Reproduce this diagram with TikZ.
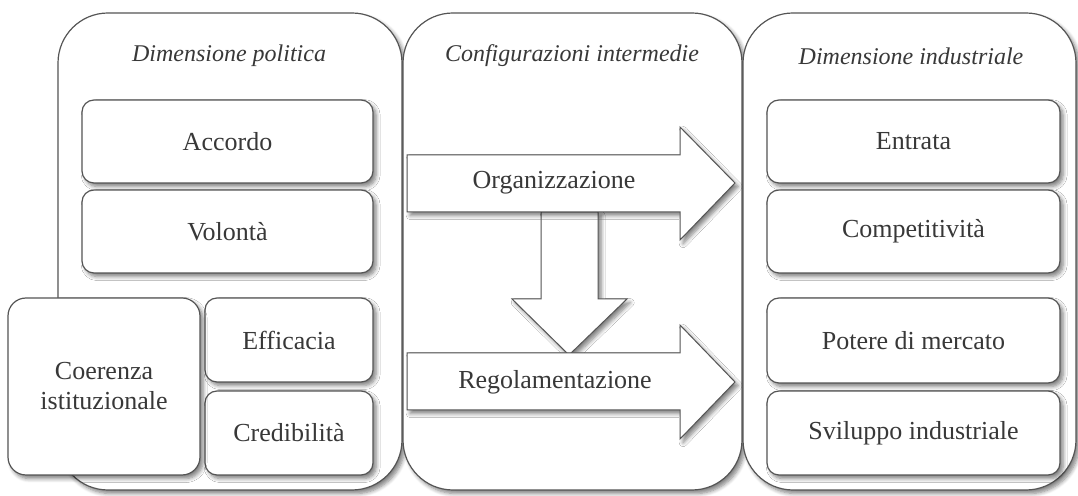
\documentclass[tikz,border=0pt]{standalone}
\usepackage{fontspec}
\setmainfont{Liberation Serif}
\usetikzlibrary{shadows.blur}
\definecolor{edge}{HTML}{555555}
\definecolor{ink}{HTML}{383838}
\tikzset{
  soft/.style={blur shadow={shadow xshift=1.6pt, shadow yshift=-1.8pt,
      shadow blur radius=2pt, shadow blur steps=6, shadow opacity=50}},
  panel/.style={draw=edge, line width=0.6pt, fill=white, rounded corners=25pt, soft},
  cell/.style={draw=edge, line width=0.6pt, fill=white, rounded corners=6pt,
    align=center, text=ink, font=\fontsize{13}{15}\selectfont, soft},
  ptitle/.style={text=ink, font=\fontsize{12}{14}\selectfont\itshape},
  barrow/.style={draw=edge, line width=0.5pt, fill=white, soft},
  blabel/.style={text=ink, font=\fontsize{13}{15}\selectfont}
}
% box from corner (x1,y1) to corner (x2,y2), pixel units
\newcommand{\cbox}[7]{%
  \node[#1, minimum width={(#5-#3)*0.5pt}, minimum height={(#6-#4)*0.5pt}]
    (#2) at ({(#3+#5)/2},{(#4+#6)/2}) {#7};}

\begin{document}
\begin{tikzpicture}[x=0.5pt, y=-0.5pt]
\useasboundingbox (0,0) rectangle (1078,496);
% panels
\cbox{panel}{pol}{58}{13}{402}{490}{}
\cbox{panel}{mid}{403}{13}{742}{490}{}
\cbox{panel}{ind}{743}{13}{1076}{490}{}
\node[ptitle] (tpol) at (229,56) {Dimensione politica};
\node[ptitle] (tmid) at (572,56) {Configurazioni intermedie};
\node[ptitle] (tind) at (911,56) {Dimensione industriale};
% block arrows
\draw[barrow] (541,212) -- (598,212) -- (598,299) -- (627,299) -- (569,355)
  -- (512,299) -- (541,299) -- cycle;
\draw[barrow] (407,155) -- (680,155) -- (680,127) -- (735,183) -- (680,240)
  -- (680,212) -- (407,212) -- cycle;
\draw[barrow] (407,353) -- (680,353) -- (680,325) -- (735,382) -- (680,439)
  -- (680,410) -- (407,410) -- cycle;
\node[blabel] (org) at (554,183) {Organizzazione};
\node[blabel] (reg) at (555,382) {Regolamentazione};
% political side
\cbox{cell}{acc}{82}{100}{373}{183}{Accordo}
\cbox{cell}{vol}{82}{190}{373}{273}{Volontà}
\cbox{cell}{eff}{205}{298}{373}{382}{Efficacia}
\cbox{cell}{cre}{205}{391}{373}{475}{Credibilità}
\cbox{cell,rounded corners=9pt}{coe}{8}{298}{200}{475}{Coerenza\\istituzionale}
% industrial side
\cbox{cell}{ent}{767}{100}{1060}{183}{Entrata}
\cbox{cell}{com}{767}{190}{1060}{273}{Competitività}
\cbox{cell}{pot}{767}{298}{1060}{383}{Potere di mercato}
\cbox{cell}{svi}{767}{391}{1060}{475}{Sviluppo industriale}
\end{tikzpicture}
\end{document}
